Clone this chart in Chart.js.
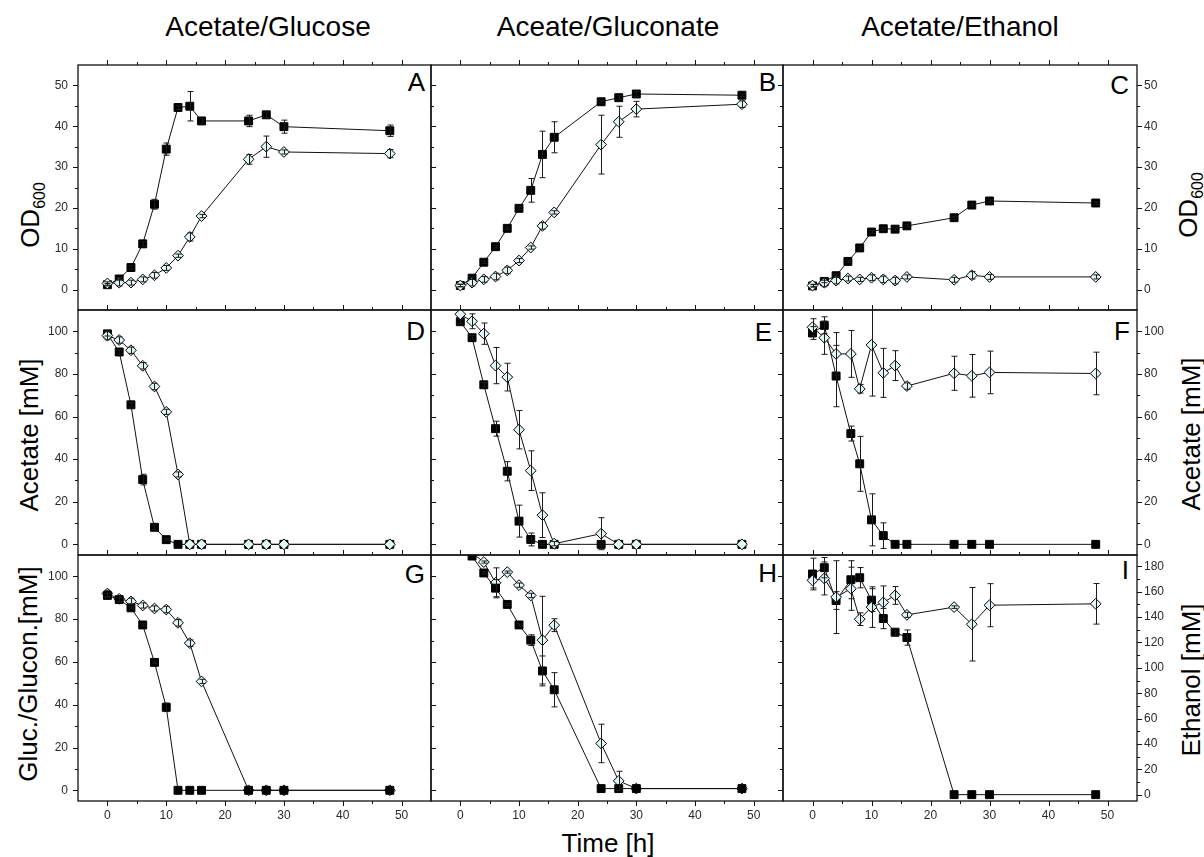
<!DOCTYPE html>
<html>
<head>
<meta charset="utf-8">
<script src="https://cdn.jsdelivr.net/npm/chart.js@4.4.1/dist/chart.umd.min.js"></script>
<style>
  body { margin:0; background:#fff; width:1204px; height:857px; position:relative; overflow:hidden;
         font-family:'Liberation Sans', Arial, sans-serif; color:#000; }
  canvas { position:absolute; }
  .t { position:absolute; white-space:nowrap; line-height:1; }
  .ctr { transform:translateX(-50%); }
  .rgt { transform:translateX(-100%); }
  .rot { transform:translate(-50%,-50%) rotate(-90deg); }
  sub { font-size:16px; line-height:0; vertical-align:-6px; }
</style>
</head>
<body>

<div class="t ctr" style="font-size:28px;left:268px;top:13px">Acetate/Glucose</div>
<div class="t ctr" style="font-size:28px;left:608px;top:13px">Aceate/Gluconate</div>
<div class="t ctr" style="font-size:28px;left:960px;top:13px">Acetate/Ethanol</div>

<div class="t rot" style="font-size:26px;left:30px;top:215px">OD<sub>600</sub></div>
<div class="t rot" style="font-size:26px;left:29px;top:435px">Acetate [mM]</div>
<div class="t rot" style="font-size:26px;left:28px;top:674px">Gluc./Glucon.[mM]</div>
<div class="t rot" style="font-size:26px;left:1188px;top:205px">OD<sub>600</sub></div>
<div class="t rot" style="font-size:26px;left:1191px;top:434px">Acetate [mM]</div>
<div class="t rot" style="font-size:26px;left:1191px;top:680px">Ethanol [mM]</div>
<div class="t ctr" style="font-size:26px;left:608px;top:830px">Time [h]</div>

<div class="t rgt" style="font-size:26px;left:425px;top:69px">A</div>
<div class="t rgt" style="font-size:26px;left:776px;top:69px">B</div>
<div class="t rgt" style="font-size:26px;left:1129px;top:72px">C</div>
<div class="t rgt" style="font-size:26px;left:425px;top:318px">D</div>
<div class="t rgt" style="font-size:26px;left:772px;top:319px">E</div>
<div class="t rgt" style="font-size:26px;left:1130px;top:318px">F</div>
<div class="t rgt" style="font-size:26px;left:425px;top:561px">G</div>
<div class="t rgt" style="font-size:26px;left:777px;top:560px">H</div>
<div class="t rgt" style="font-size:26px;left:1129px;top:557px">I</div>

<script>
// sampling times [h]
const tGlc = [0, 2, 4, 6, 8, 10, 12, 14, 16, 24, 27, 30, 48];
const tEtOD = [0, 2, 4, 6, 8, 10, 12, 14, 16, 24, 27, 30, 48];
const tEt = [0, 2, 4, 6.5, 8, 10, 12, 14, 16, 24, 27, 30, 48];

// A: OD600 acetate/glucose
const odGlcSq = [1.2, 2.6, 5.4, 11.2, 20.9, 34.4, 44.6, 44.9, 41.3, 41.3, 42.8, 39.9, 38.9];
const odGlcSqErr = [0.3, 0.3, 0.4, 0.5, 1.2, 1.5, 0.5, 3.6, 0.5, 1.4, 0.7, 1.6, 1.4];
const odGlcDi = [1.5, 1.7, 1.7, 2.5, 3.5, 5.3, 8.3, 12.9, 18.0, 31.9, 35.0, 33.7, 33.3];
const odGlcDiErr = [0.4, 0.8, 0.6, 0.6, 0.7, 0.6, 0.4, 1.0, 0.4, 1.2, 2.6, 0.5, 1.0];

// B: OD600 acetate/gluconate
const odGlnSq = [1.0, 2.8, 6.7, 10.5, 15.0, 19.9, 24.3, 33.1, 37.3, 46.0, 47.0, 47.9, 47.6];
const odGlnSqErr = [0.3, 0.3, 0.3, 0.3, 0.3, 0.4, 2.9, 5.7, 3.8, 0.3, 0.5, 0.6, 0.3];
const odGlnDi = [1.0, 1.7, 2.5, 3.2, 4.7, 7.1, 10.3, 15.6, 18.9, 35.5, 41.1, 44.2, 45.4];
const odGlnDiErr = [0.3, 0.8, 0.7, 0.8, 0.8, 0.5, 0.4, 0.8, 0.4, 7.2, 3.8, 1.9, 0.8];

// C: OD600 acetate/ethanol
const odEtSq = [0.9, 2.0, 3.4, 6.9, 10.2, 14.1, 14.9, 14.8, 15.6, 17.6, 20.7, 21.7, 21.2];
const odEtSqErr = [0.3, 0.3, 0.3, 0.3, 0.3, 0.3, 0.3, 0.3, 0.3, 0.3, 0.3, 0.3, 0.3];
const odEtDi = [1.0, 1.7, 2.2, 2.7, 2.5, 2.9, 2.5, 2.2, 3.1, 2.4, 3.5, 3.1, 3.1];
const odEtDiErr = [0.3, 1.0, 0.8, 0.6, 0.5, 0.7, 0.8, 0.8, 0.5, 0.6, 0.9, 0.6, 0.5];

// D: acetate, acetate/glucose
const acGlcSq = [98.8, 90.3, 65.5, 30.4, 8.0, 2.2, 0, 0, 0, 0, 0, 0, 0];
const acGlcSqErr = [1, 1, 1, 2.5, 1, 0.5, 0, 0, 0, 0, 0, 0, 0];
const acGlcDi = [98.0, 95.9, 91.1, 83.8, 74.1, 62.2, 32.8, 0, 0, 0, 0, 0, 0];
const acGlcDiErr = [2, 1.5, 1.5, 1.5, 1.5, 1.2, 1.2, 0, 0, 0, 0, 0, 0];

// E: acetate, acetate/gluconate
const acGlnSq = [104.5, 97.0, 74.9, 54.3, 34.3, 10.9, 2.3, 0, 0, 0, 0, 0, 0];
const acGlnSqErr = [1, 1, 1, 3.5, 4.5, 7.5, 3, 0.5, 0, 0.5, 0, 0, 0];
const acGlnDi = [108, 104.7, 98.9, 83.9, 78.5, 53.8, 34.6, 13.7, 0.3, 5.0, 0, 0, 0];
const acGlnDiErr = [0, 3.5, 5, 8.5, 6.5, 9, 9.3, 10.5, 1, 7.5, 0, 0, 0];

// F: acetate, acetate/ethanol
const acEtSq = [99.2, 102.8, 79.0, 52.0, 37.8, 11.5, 4.1, 0, 0, 0, 0, 0, 0];
const acEtSqErr = [3, 4, 14.4, 3.5, 12.9, 12.2, 6, 0, 0, 0, 0, 0, 0];
const acEtDi = [101.9, 97.0, 89.4, 89.4, 73.0, 93.6, 80.5, 83.9, 74.3, 80.3, 79.1, 80.7, 80.2];
const acEtDiErr = [4, 7.8, 10, 11, 2, 24, 11.5, 7, 1.5, 8, 10, 10, 10];

// G: glucose
const glcSq = [91.1, 89.2, 85.3, 77.3, 59.8, 38.8, 0, 0, 0, 0, 0, 0, 0];
const glcSqErr = [1, 1, 0.5, 0.5, 0.5, 2, 0, 0, 0, 0, 0, 0, 0];
const glcDi = [92.0, 89.5, 88.3, 86.4, 85.0, 84.5, 78.3, 68.8, 50.9, 0, 0, 0, 0];
const glcDiErr = [1.5, 1.5, 1.5, 1.2, 1.2, 1.5, 1.5, 1.5, 1, 0, 0, 0, 0];

// H: gluconate
const glnSq = [112, 109.5, 101.6, 94.5, 86.9, 77.3, 70.2, 55.8, 47.0, 0.8, 0.8, 0.8, 0.8];
const glnSqErr = [0, 0, 0.5, 4, 0.5, 0.5, 2.5, 7, 8, 0, 0, 0, 0];
const glnDi = [114, 111, 106.7, 97.0, 102.0, 95.9, 91.1, 70.2, 77.2, 21.9, 4.4, 0.8, 0.8];
const glnDiErr = [0, 0, 0.5, 7, 0.5, 1, 1, 20.5, 3, 9, 4.5, 0, 0];

// I: ethanol
const etSq = [174.0, 179.0, 153.1, 169.5, 171.1, 153.4, 138.9, 128.1, 123.9, 0, 0, 0, 0];
const etSqErr = [12.5, 8, 7, 15, 8, 9, 8, 3, 6, 0, 0, 0, 0];
const etDi = [169.0, 170.5, 155.8, 162.4, 138.4, 147.9, 151.6, 157.1, 141.8, 147.9, 134.4, 149.4, 150.5];
const etDiErr = [6, 13, 28.7, 17, 5, 16, 13, 7, 2, 1, 29, 17, 16];

// tick values
const timeTicks = [0, 10, 20, 30, 40, 50];
const timeMinor = [5, 15, 25, 35, 45];
const odTicks = [0, 10, 20, 30, 40, 50];
const odMinor = [5, 15, 25, 35, 45];
const mMTicks = [0, 20, 40, 60, 80, 100];
const mMMinor = [10, 30, 50, 70, 90];
const etTicks = [0, 20, 40, 60, 80, 100, 120, 140, 160, 180];
const etMinor = [10, 30, 50, 70, 90, 110, 130, 150, 170];

// layout
const colX = [78, 431, 783, 1137];
const rowY = [65, 310, 555, 801];
const M = 50;
const rowAxis = [
  { min: -5, max: 55, major: odTicks, minor: odMinor },
  { min: -5, max: 110, major: mMTicks, minor: mMMinor },
  { min: -5, max: 110, major: mMTicks, minor: mMMinor }
];
const etAxis = { min: -5, max: 189, major: etTicks, minor: etMinor };

const panels = [
  { r: 0, c: 0, t: tGlc, sq: odGlcSq, sqErr: odGlcSqErr, di: odGlcDi, diErr: odGlcDiErr, sqTop: false },
  { r: 0, c: 1, t: tGlc, sq: odGlnSq, sqErr: odGlnSqErr, di: odGlnDi, diErr: odGlnDiErr, sqTop: false },
  { r: 0, c: 2, t: tEtOD, sq: odEtSq, sqErr: odEtSqErr, di: odEtDi, diErr: odEtDiErr, sqTop: false },
  { r: 1, c: 0, t: tGlc, sq: acGlcSq, sqErr: acGlcSqErr, di: acGlcDi, diErr: acGlcDiErr, sqTop: false },
  { r: 1, c: 1, t: tGlc, sq: acGlnSq, sqErr: acGlnSqErr, di: acGlnDi, diErr: acGlnDiErr, sqTop: false },
  { r: 1, c: 2, t: tEt, sq: acEtSq, sqErr: acEtSqErr, di: acEtDi, diErr: acEtDiErr, sqTop: false },
  { r: 2, c: 0, t: tGlc, sq: glcSq, sqErr: glcSqErr, di: glcDi, diErr: glcDiErr, sqTop: true },
  { r: 2, c: 1, t: tGlc, sq: glnSq, sqErr: glnSqErr, di: glnDi, diErr: glnDiErr, sqTop: true },
  { r: 2, c: 2, t: tEt, sq: etSq, sqErr: etSqErr, di: etDi, diErr: etDiErr, sqTop: false, ethanol: true }
];

// frame, tick marks and error bars
function tickSet(ctx, scale, vals, len, edge, dir, a) {
  vals.forEach(v => {
    const p = Math.round(scale.getPixelForValue(v)) + 0.5;
    ctx.beginPath();
    if (edge === 'top' || edge === 'bottom') {
      const y0 = edge === 'top' ? a.top : a.bottom;
      const s = (edge === 'top') === (dir === 'out') ? -1 : 1;
      ctx.moveTo(p, y0); ctx.lineTo(p, y0 + s * len);
    } else {
      const x0 = edge === 'left' ? a.left : a.right;
      const s = (edge === 'left') === (dir === 'out') ? -1 : 1;
      ctx.moveTo(x0, p); ctx.lineTo(x0 + s * len, p);
    }
    ctx.stroke();
  });
}

const panelDeco = {
  id: 'panelDeco',
  afterDatasetsDraw(chart) {
    const ctx = chart.ctx, a = chart.chartArea, xs = chart.scales.x;
    ctx.save();
    ctx.beginPath();
    ctx.rect(a.left, a.top, a.right - a.left, a.bottom - a.top);
    ctx.clip();
    ctx.strokeStyle = '#1a1a1a';
    ctx.lineWidth = 1;
    chart.data.datasets.forEach(ds => {
      const ys = chart.scales[ds.yAxisID];
      ds.data.forEach((pt, i) => {
        const e = ds.errorBars[i];
        if (!e) return;
        const px = Math.round(xs.getPixelForValue(pt.x)) + 0.5;
        const y1 = ys.getPixelForValue(pt.y + e), y2 = ys.getPixelForValue(pt.y - e);
        ctx.beginPath();
        ctx.moveTo(px, y1); ctx.lineTo(px, y2);
        ctx.moveTo(px - 3, y1); ctx.lineTo(px + 3, y1);
        ctx.moveTo(px - 3, y2); ctx.lineTo(px + 3, y2);
        ctx.stroke();
      });
    });
    ctx.restore();
  },
  afterDraw(chart, args, o) {
    const ctx = chart.ctx, a = chart.chartArea;
    ctx.save();
    ctx.strokeStyle = '#111';
    ctx.lineWidth = 1.3;
    ctx.strokeRect(a.left, a.top, a.right - a.left, a.bottom - a.top);
    ctx.lineWidth = 1;
    o.edges.forEach(ed => {
      const sc = chart.scales[ed.scale];
      tickSet(ctx, sc, ed.major, 5, ed.edge, ed.dir, a);
      tickSet(ctx, sc, ed.minor, 3, ed.edge, ed.dir, a);
    });
    ctx.restore();
  }
};

const tickFont = { family: "'Liberation Sans', Arial, sans-serif", size: 12 };

function makePanel(p) {
  const left = colX[p.c], right = colX[p.c + 1], top = rowY[p.r], bottom = rowY[p.r + 1];
  const w = right - left, h = bottom - top;
  const cv = document.createElement('canvas');
  cv.width = w + 2 * M;
  cv.height = h + 2 * M;
  cv.style.left = (left - M) + 'px';
  cv.style.top = (top - M) + 'px';
  document.body.appendChild(cv);

  const ya = rowAxis[p.r];
  const ya2 = p.ethanol ? etAxis : ya;
  const yId = p.ethanol ? 'y2' : 'y';

  const edges = [
    { edge: 'top', dir: 'out', scale: 'x', major: timeTicks, minor: timeMinor }
  ];
  if (p.r === 2) edges.push({ edge: 'bottom', dir: 'out', scale: 'x', major: timeTicks, minor: timeMinor });
  if (p.c === 0) edges.push({ edge: 'left', dir: 'out', scale: 'y', major: ya.major, minor: ya.minor });
  if (p.c === 1) {
    edges.push({ edge: 'left', dir: 'in', scale: 'y', major: ya.major, minor: ya.minor });
    edges.push({ edge: 'right', dir: 'in', scale: 'y2', major: ya2.major, minor: ya2.minor });
  }
  if (p.c === 2) edges.push({ edge: 'right', dir: 'out', scale: 'y2', major: ya2.major, minor: ya2.minor });

  const yScale = (ax, pos, show, pad) => ({
    type: 'linear', position: pos, min: ax.min, max: ax.max,
    afterBuildTicks: s => { s.ticks = ax.major.map(v => ({ value: v })); },
    afterFit: s => { s.width = M; },
    grid: { display: false, drawTicks: false },
    border: { display: false },
    ticks: { display: show, padding: pad, font: tickFont, color: '#2a2a2a' }
  });

  new Chart(cv, {
    type: 'line',
    data: {
      datasets: [
        {
          data: p.t.map((x, i) => ({ x, y: p.di[i] })),
          errorBars: p.diErr,
          yAxisID: yId,
          order: p.sqTop ? 1 : 0,
          borderColor: '#111', borderWidth: 1, tension: 0, fill: false,
          pointStyle: 'rectRot', pointRadius: 5.4, pointBorderWidth: 1,
          pointBackgroundColor: '#e3f6f6', pointBorderColor: '#000'
        },
        {
          data: p.t.map((x, i) => ({ x, y: p.sq[i] })),
          errorBars: p.sqErr,
          yAxisID: yId,
          order: p.sqTop ? 0 : 1,
          borderColor: '#111', borderWidth: 1, tension: 0, fill: false,
          pointStyle: 'rect', pointRadius: 5.6, pointBorderWidth: 1,
          pointBackgroundColor: '#000', pointBorderColor: '#000'
        }
      ]
    },
    options: {
      responsive: false,
      animation: false,
      devicePixelRatio: 1,
      layout: { padding: { top: M, left: 0, right: 0, bottom: 0 } },
      plugins: {
        legend: { display: false },
        tooltip: { enabled: false },
        panelDeco: { edges }
      },
      scales: {
        x: {
          type: 'linear', position: 'bottom', min: -5, max: 55,
          afterBuildTicks: s => { s.ticks = timeTicks.map(v => ({ value: v })); },
          afterFit: s => { s.height = M; },
          grid: { display: false, drawTicks: false },
          border: { display: false },
          ticks: { display: p.r === 2, padding: 7, font: tickFont, color: '#2a2a2a' }
        },
        y: yScale(ya, 'left', p.c === 0, 10),
        y2: yScale(ya2, 'right', p.c === 2, 7)
      }
    },
    plugins: [panelDeco]
  });
}

panels.forEach(makePanel);
</script>
</body>
</html>
